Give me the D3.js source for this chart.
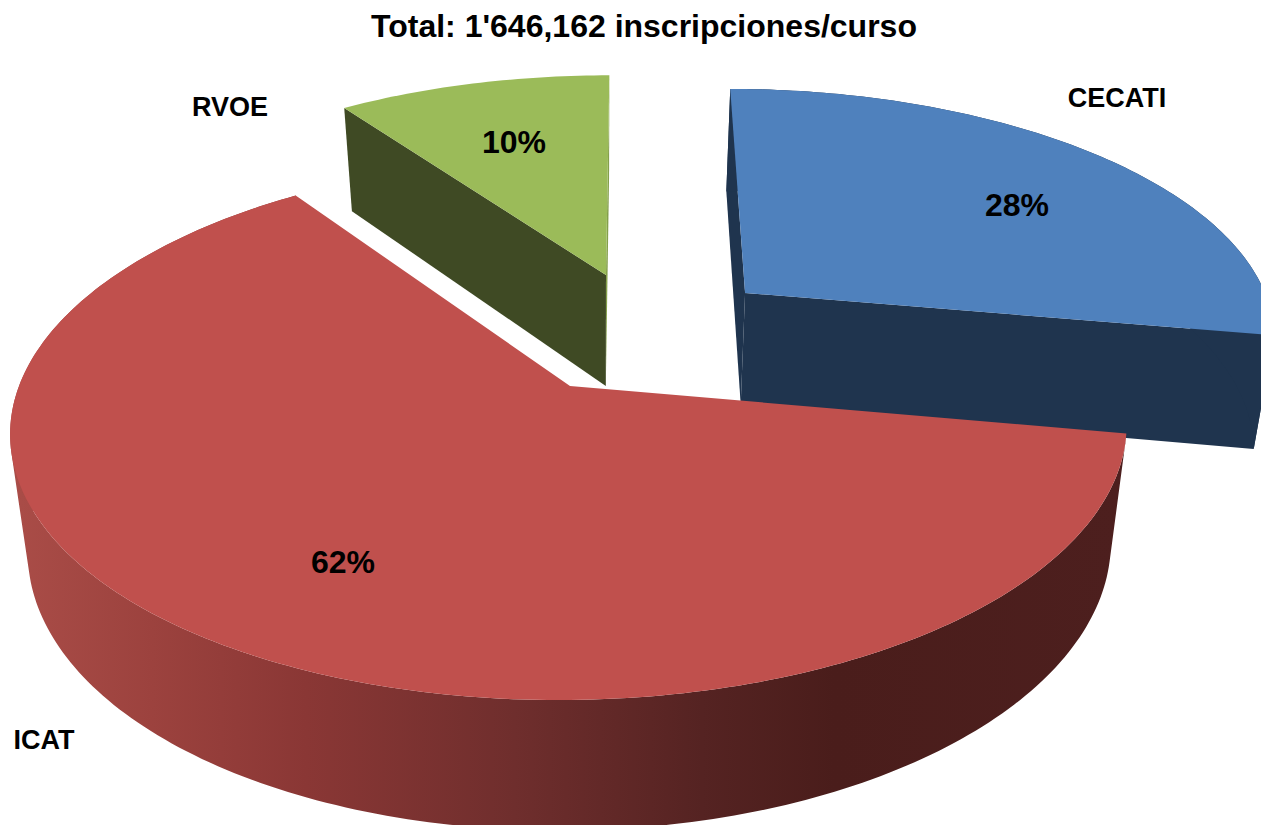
<!DOCTYPE html>
<html>
<head>
<meta charset="utf-8">
<script src="https://cdn.jsdelivr.net/npm/d3@7"></script>
<style>html,body{margin:0;padding:0;background:#fff;overflow:hidden}svg{display:block}text{font-family:"Liberation Sans",Arial,sans-serif;font-weight:bold;fill:#000}</style>
</head>
<body>
<script>
// data
const categories = ["CECATI", "ICAT", "RVOE"];
const shares = [27.8, 62.4, 9.8];
const titleText = "Total: 1'646,162 inscripciones/curso";

// geometry of the perspective view
const W = 1261, H = 825;
const view = {cx: 570, cy: 386, vx: 632, R: 551, A: 263.8, k: 0.16,
  lowCy: 502, lowA: 276, lowXc: 600, lowS: 0.97};
const explode = {CECATI: [0.33, -0.3736], ICAT: [0, 0], RVOE: [0.0619, -0.451]};
const topColor = {CECATI: "#4f81bd", ICAT: "#c0504d", RVOE: "#9bbb59"};
const wallColor = {CECATI: "#1f344e", RVOE: "#3f4a24"};
const sliverColor = {CECATI: "#1f344e", RVOE: "#84a04b"};
const labelPos = {CECATI: [1117, 107], ICAT: [44, 749], RVOE: [230, 116]};
const pctPos = {CECATI: [1017, 216], ICAT: [343, 573], RVOE: [514, 153]};

function proj(u, v, low) {
  const w = 1 - view.k * v, f = v / w;
  const x = view.vx + (view.cx - view.vx + view.R * u) / w;
  if (!low) return [x, view.cy + view.A * f];
  return [view.lowXc + view.lowS * (x - view.lowXc), view.lowCy + view.lowA * f];
}

const svg = d3.select("body").append("svg").attr("width", W).attr("height", H).attr("viewBox", `0 0 ${W} ${H}`);
const defs = svg.append("defs");
const grad = defs.append("linearGradient").attr("id", "redWall").attr("gradientUnits", "userSpaceOnUse")
  .attr("x1", 20).attr("x2", 1120).attr("y1", 0).attr("y2", 0);
[[0, "#a94c47"], [0.12, "#9c423e"], [0.26, "#8a3735"], [0.45, "#6f2e2d"], [0.62, "#552322"], [0.74, "#4a1d1b"], [1, "#4d1f1e"]]
  .forEach(s => grad.append("stop").attr("offset", s[0]).attr("stop-color", s[1]));

const pie = d3.pie().sort(null).value(d => d.share);
const slices = pie(categories.map((c, i) => ({name: c, share: shares[i]})));
const line = d3.line();
const deg = Math.PI / 180;

function arcPts(s, low) {
  const [u0, v0] = explode[s.data.name];
  const n = Math.ceil((s.endAngle - s.startAngle) / deg);
  return d3.range(n + 1).map(i => {
    const a = s.startAngle + (s.endAngle - s.startAngle) * i / n;
    return proj(u0 + Math.sin(a), v0 - Math.cos(a), low);
  });
}
const apex = (s, low) => { const [u0, v0] = explode[s.data.name]; return proj(u0, v0, low); };

// one path made of same-wound quads: a seamless union of the curved wall
function wallPath(top, low) {
  return d3.range(top.length - 1).map(i => {
    const q = [top[i], top[i + 1], low[i + 1], low[i]];
    if (d3.polygonArea(q) < 0) q.reverse();
    return line(q) + "Z";
  }).join("");
}

const order = ["RVOE", "CECATI", "ICAT"];
order.forEach(name => {
  const s = slices.find(d => d.data.name === name);
  const top = arcPts(s, false), low = arcPts(s, true);
  const g = svg.append("g").attr("class", "slice-" + name);
  const a0 = apex(s, false), a1 = apex(s, true);
  if (name === "ICAT") {
    g.append("path").attr("d", wallPath(top, low)).attr("fill", "url(#redWall)");
  } else {
    const first = [a0, top[0], low[0], a1], last = [a0, top[top.length - 1], low[low.length - 1], a1];
    if (name === "RVOE") {
      g.append("path").attr("d", line(last) + "Z").attr("fill", sliverColor[name]);
      g.append("path").attr("d", line(first) + "Z").attr("fill", wallColor[name]);
    } else {
      g.append("path").attr("d", line(first) + "Z").attr("fill", wallColor[name]);
      g.append("path").attr("d", line(last) + "Z").attr("fill", wallColor[name]);
      g.append("path").attr("d", wallPath(top, low)).attr("fill", wallColor[name]);
    }
  }
  g.append("path").attr("d", line([a0, ...top]) + "Z").attr("fill", topColor[name]);
});

svg.append("text").attr("x", 644).attr("y", 37).attr("text-anchor", "middle").attr("font-size", 32).text(titleText);
slices.forEach(s => {
  const n = s.data.name;
  svg.append("text").attr("x", labelPos[n][0]).attr("y", labelPos[n][1]).attr("text-anchor", "middle")
    .attr("font-size", 27).text(n);
  svg.append("text").attr("x", pctPos[n][0]).attr("y", pctPos[n][1]).attr("text-anchor", "middle")
    .attr("font-size", 32).text(d3.format(".0f")(s.data.share) + "%");
});
</script>
</body>
</html>
